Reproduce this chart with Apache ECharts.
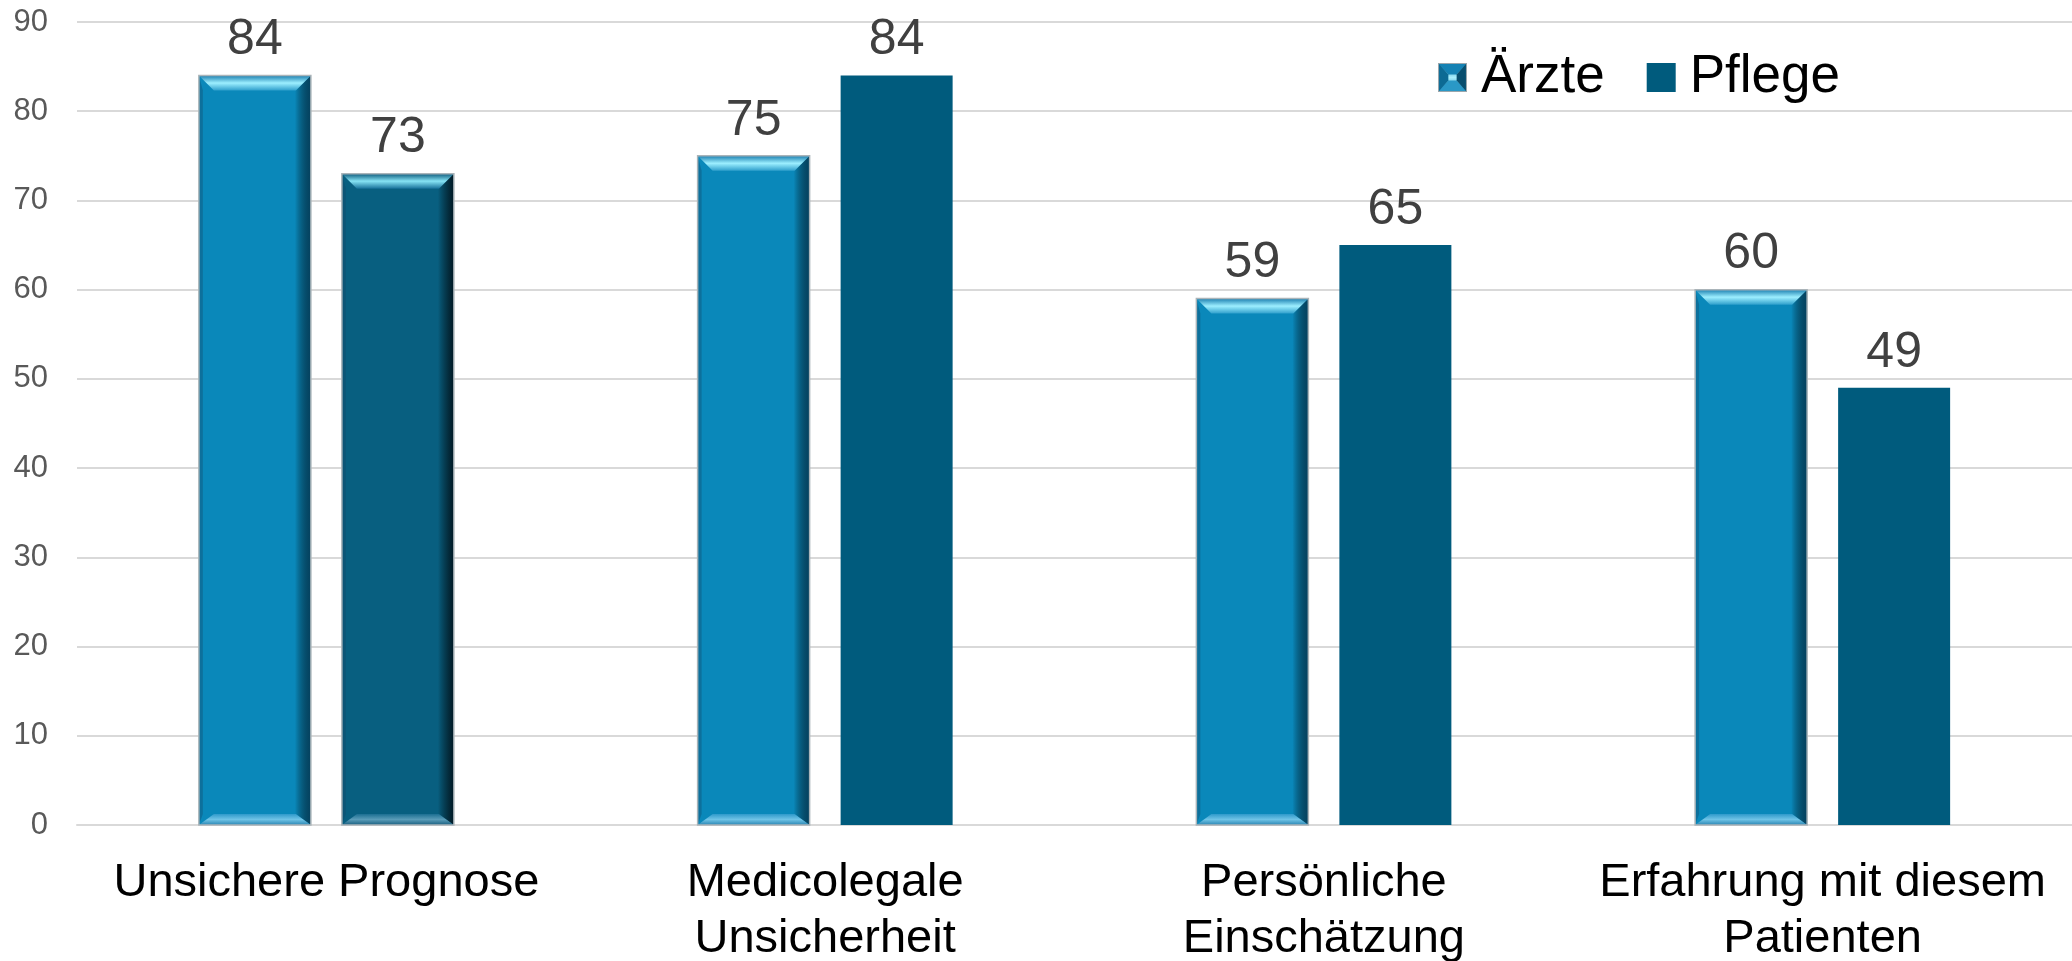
<!DOCTYPE html>
<html>
<head>
<meta charset="utf-8">
<script src="https://cdn.jsdelivr.net/npm/echarts@6/dist/echarts.min.js"></script>
<style>
  html, body { margin: 0; padding: 0; background: #ffffff; }
  #chart { width: 2072px; height: 961px; }
</style>
</head>
<body>
<div id="chart"></div>
<script>
// Reasons given by physicians and nursing staff (percent)
const categories = [
  'Unsichere Prognose',
  'Medicolegale\nUnsicherheit',
  'Persönliche\nEinschätzung',
  'Erfahrung mit diesem\nPatienten'
];
const seriesNames = ['Ärzte', 'Pflege'];
const aerzte = [84, 75, 59, 60];
const pflege = [73, 84, 65, 49];
const yMin = 0, yMax = 90, yStep = 10;

// bar geometry and beveled look
const BAR_W = 112;
const BAR_GAP = 31;
const pflegeBeveled = [true, false, false, false];

const FONT = 'Liberation Sans, Arial, Helvetica, sans-serif';

const palettes = [
  { body: '#0a88ba', topA: '#1b7fb0', topB: '#9defff', topC: '#2f9fcc', edge: 'rgba(4,58,86,0.9)', botA: '#2f9acb', botB: '#6fc3e6', botC: '#2a86b3' },
  { body: '#085f80', topA: '#0c5a7c', topB: '#86e3f4', topC: '#17719a', edge: 'rgba(2,22,32,0.95)', botA: '#1c6f92', botB: '#5a9cb8', botC: '#195f80' }
];

const legendIcon = 'image://data:image/svg+xml;charset=utf-8,' + encodeURIComponent(
  "<svg xmlns='http://www.w3.org/2000/svg' width='28' height='28'>" +
  "<defs><linearGradient id='g' x1='0' y1='0' x2='0' y2='1'>" +
  "<stop offset='0' stop-color='#1a86b6'/><stop offset='0.5' stop-color='#a9eefc'/><stop offset='1' stop-color='#1a86b6'/></linearGradient></defs>" +
  "<rect x='0.5' y='0.5' width='27' height='27' fill='url(#g)' stroke='#9aa6ac'/>" +
  "<polygon points='1,1 27,1 18,11 10,11' fill='#1482b4'/>" +
  "<polygon points='1,27 27,27 18,17 10,17' fill='#2a98c6'/>" +
  "<polygon points='1,1 10,11 10,17 1,27' fill='#0c6a94'/>" +
  "<polygon points='27,1 18,11 18,17 27,27' fill='#084e6e'/>" +
  "</svg>");

const bevelData = [];
aerzte.forEach((v, i) => bevelData.push([i, v, 0]));
pflege.forEach((v, i) => bevelData.push([i, v, 1]));

function grad(x1, y1, x2, y2, stops) {
  return new echarts.graphic.LinearGradient(x1, y1, x2, y2, stops.map((c, k) => ({ offset: k / (stops.length - 1), color: c })));
}

function renderBevel(params, api) {
  const i = api.value(0), v = api.value(1), s = api.value(2);
  if (s === 1 && !pflegeBeveled[i]) return { type: 'group', children: [] };
  const p = palettes[s];
  const top = api.coord([i, v]);
  const base = api.coord([i, 0]);
  const x0 = s === 0 ? top[0] - BAR_GAP / 2 - BAR_W : top[0] + BAR_GAP / 2;
  const x1 = x0 + BAR_W;
  const yt = top[1], yb = base[1];
  const B = 15, Bb = 11, E = 16;
  return {
    type: 'group',
    children: [
      { type: 'polygon', shape: { points: [[x1, yt], [x1, yb], [x1 - E, yb - Bb], [x1 - E, yt + B]] },
        style: { fill: grad(0, 0, 1, 0, ['rgba(0,0,0,0)', p.edge]) } },
      { type: 'polygon', shape: { points: [[x0, yt], [x0 + 4, yt + B], [x0 + 4, yb - Bb], [x0, yb]] },
        style: { fill: 'rgba(20,70,100,0.35)' } },
      { type: 'polygon', shape: { points: [[x0, yt], [x1, yt], [x1 - B, yt + B], [x0 + B, yt + B]] },
        style: { fill: grad(0, 0, 0, 1, [p.topA, p.topB, p.topC]) } },
      { type: 'polygon', shape: { points: [[x0, yb], [x0 + B, yb - Bb], [x1 - B, yb - Bb], [x1, yb]] },
        style: { fill: grad(0, 0, 0, 1, [p.botA, p.botB, p.botC]) } },
      { type: 'rect', shape: { x: x0, y: yt, width: BAR_W, height: yb - yt },
        style: { fill: 'none', stroke: '#aab4b9', lineWidth: 1.5 } }
    ]
  };
}

const chart = echarts.init(document.getElementById('chart'), null, { renderer: 'canvas' });
chart.setOption({
  animation: false,
  backgroundColor: '#ffffff',
  grid: { left: 77, right: 0, top: 22, bottom: 136, containLabel: false, outerBoundsMode: 'none' },
  legend: {
    left: 1433, top: 46,
    itemWidth: 29, itemHeight: 29, itemGap: 42,
    textStyle: { fontFamily: FONT, fontSize: 53, color: '#000000', padding: [0, 0, 0, 9] },
    data: [
      { name: seriesNames[0], icon: legendIcon },
      { name: seriesNames[1], icon: 'rect' }
    ]
  },
  xAxis: {
    type: 'category',
    data: categories,
    axisLine: { show: true, lineStyle: { color: '#d9d9d9', width: 2 } },
    axisTick: { show: false },
    axisLabel: { fontFamily: FONT, fontSize: 47, color: '#000000', lineHeight: 56, margin: 30, interval: 0 }
  },
  yAxis: {
    type: 'value',
    min: yMin, max: yMax, interval: yStep,
    axisLine: { show: false },
    axisTick: { show: false },
    axisLabel: { fontFamily: FONT, fontSize: 31, color: '#595959', margin: 29 },
    splitLine: { lineStyle: { color: '#d9d9d9', width: 2 } }
  },
  series: [
    {
      name: seriesNames[0], type: 'bar', data: aerzte,
      barWidth: BAR_W, barGap: (BAR_GAP / BAR_W * 100) + '%',
      itemStyle: { color: palettes[0].body },
      label: { show: true, position: 'top', distance: 10, fontFamily: FONT, fontSize: 50, color: '#404040' },
      z: 2
    },
    {
      name: seriesNames[1], type: 'bar', data: pflege.map((v, i) => pflegeBeveled[i] ? { value: v, itemStyle: { color: palettes[1].body } } : v),
      barWidth: BAR_W,
      itemStyle: { color: '#005b7d' },
      label: { show: true, position: 'top', distance: 10, fontFamily: FONT, fontSize: 50, color: '#404040' },
      z: 2
    },
    {
      name: 'bevel', type: 'custom', data: bevelData,
      renderItem: renderBevel, silent: true, z: 3,
      encode: { x: 0, y: 1 }
    }
  ]
});
</script>
</body>
</html>
